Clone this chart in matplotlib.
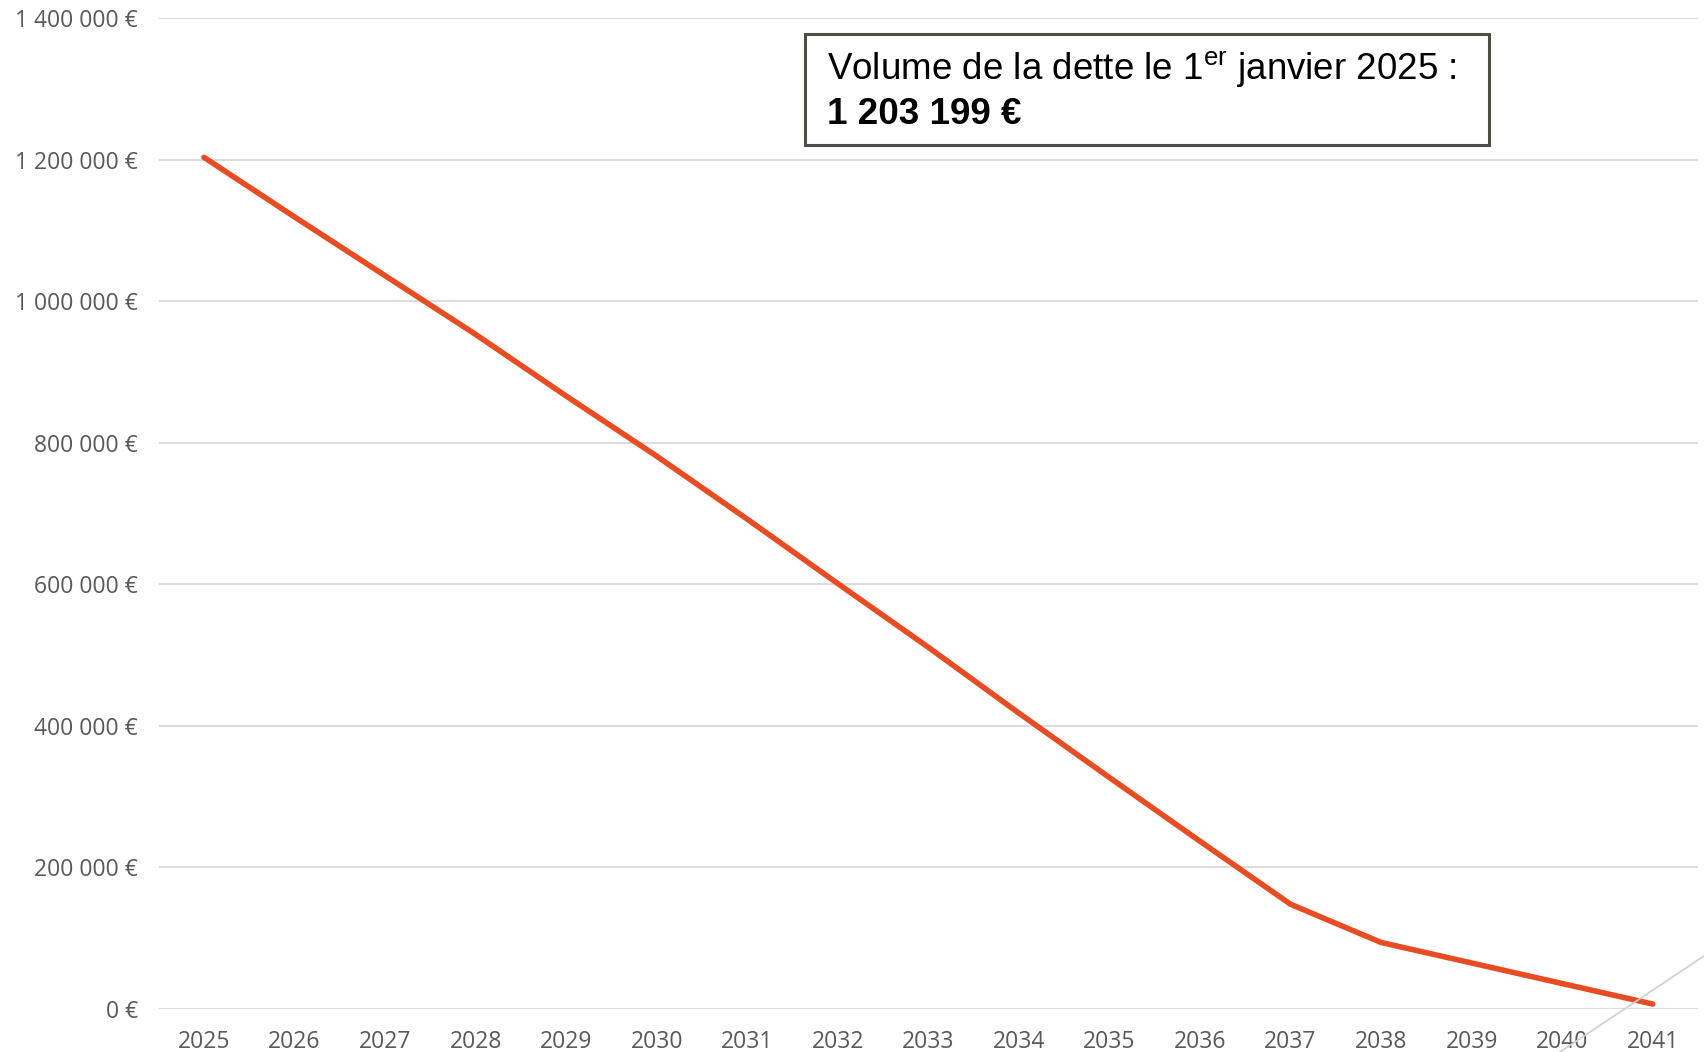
import matplotlib
matplotlib.use('Agg')
import matplotlib.pyplot as plt
from matplotlib.patches import Rectangle
from matplotlib.lines import Line2D

# Debt outstanding at 1 January of each year (EUR)
years = ['2025', '2026', '2027', '2028', '2029', '2030', '2031', '2032', '2033',
         '2034', '2035', '2036', '2037', '2038', '2039', '2040', '2041']
debt = [1203199, 1119000, 1036000, 953000, 866000, 781000, 692000, 601000, 511000,
        418000, 327000, 237000, 148000, 94000, 65000, 36000, 7000]
y_ticks = [0, 200000, 400000, 600000, 800000, 1000000, 1200000, 1400000]

plt.rcParams['mathtext.fontset'] = 'custom'
plt.rcParams['mathtext.rm'] = 'Liberation Sans'

W, H = 1704, 1052
fig = plt.figure(figsize=(W / 100, H / 100), dpi=100)
fig.patch.set_facecolor('white')
ax = fig.add_axes([158.7 / W, 1 - 1009 / H, (1698 - 158.7) / W, (1009 - 18) / H])

x = list(range(len(years)))
ax.plot(x, debt, color='#E84C22', linewidth=4, solid_capstyle='round',
        solid_joinstyle='round', zorder=3)

ax.set_xlim(-0.5, len(years) - 0.5)
ax.set_ylim(0, 1400000)
ax.set_xticks(x)
ax.set_xticklabels(years)
ax.set_yticks(y_ticks)
ax.set_yticklabels([(f'{v:,}'.replace(',', ' ') + ' €') for v in y_ticks])

for s in ax.spines.values():
    s.set_visible(False)
ax.grid(axis='y', color='#d9d9d9', linewidth=1.3)
ax.set_axisbelow(True)
ax.tick_params(axis='both', length=0, labelsize=16.5, labelcolor='#595959')
ax.tick_params(axis='y', pad=15)
ax.tick_params(axis='x', pad=15)
for lab in ax.get_xticklabels() + ax.get_yticklabels():
    lab.set_fontfamily('Open Sans')

# annotation box
fig.add_artist(Rectangle((805 / W, 1 - 145 / H), 684 / W, 111 / H,
                         transform=fig.transFigure, facecolor='white',
                         edgecolor='#4d4d45', linewidth=2.2, zorder=5))
fig.text(827 / W, 1 - 70 / H, r'Volume de la dette le 1$^{\mathrm{er}}$ janvier 2025 :',
         fontfamily='Liberation Sans', fontsize=26.5, color='black',
         va='center', ha='left', zorder=6)
fig.text(827 / W, 1 - 114 / H, '1 203 199 €', fontfamily='Liberation Sans',
         fontsize=26.5, fontweight='bold', color='black',
         va='center', ha='left', zorder=6)

# stray grey diagonal at the bottom-right corner
fig.add_artist(Line2D([1560 / W, 1704 / W], [0, 1 - 956 / H],
                      transform=fig.transFigure, color='#d0d0d0', linewidth=1.2))

fig.savefig('out.png', dpi=100)
